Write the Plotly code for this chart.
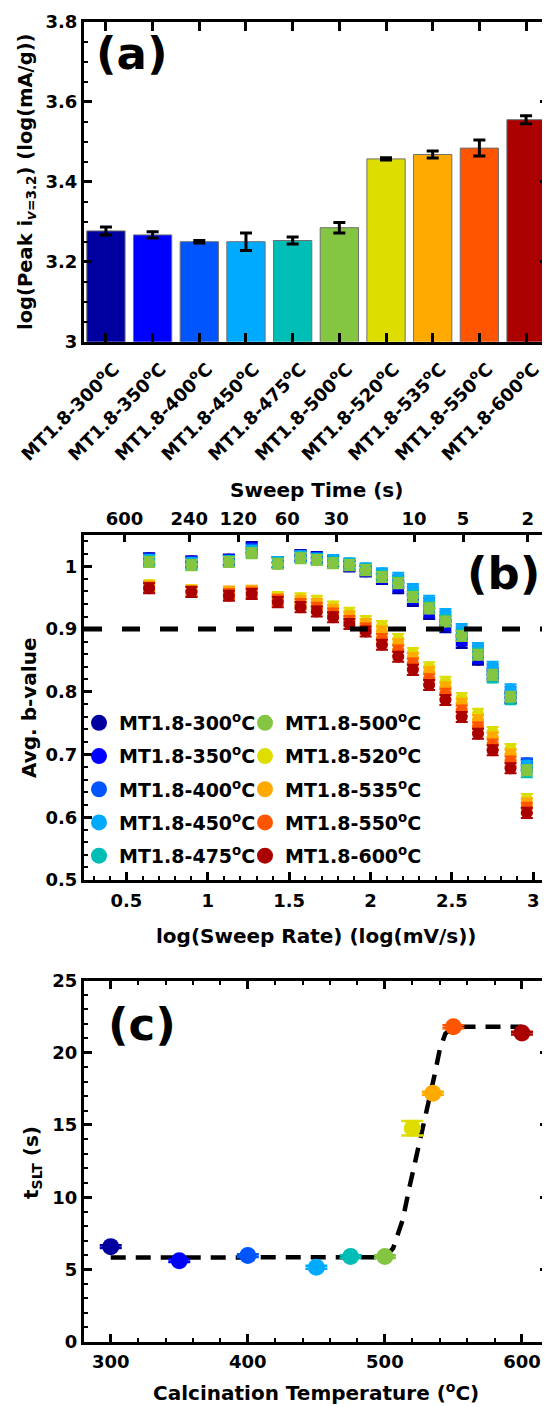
import numpy as np
import plotly.graph_objects as go

# ---------------- data ----------------
temps = [300, 350, 400, 450, 475, 500, 520, 535, 550, 600]
sample_names = ["MT1.8-%d<sup>o</sup>C" % t for t in temps]
colors = ["#0000A0", "#0000FF", "#0055FF", "#00AAFF", "#00BDB6",
          "#84C541", "#DDDD00", "#FFAA00", "#FF5500", "#AA0000"]

# (a) log(peak current) at v = 3.2
peak_log_current = [3.277, 3.267, 3.250, 3.250, 3.253, 3.285, 3.457, 3.468, 3.484, 3.555]
peak_log_err = [0.010, 0.008, 0.003, 0.022, 0.009, 0.013, 0.003, 0.009, 0.020, 0.010]

# (b) average b-value vs log(sweep rate)
log_sweep_rate = [0.64, 0.90, 1.13, 1.27, 1.43, 1.57, 1.67, 1.77, 1.87, 1.97,
                  2.07, 2.17, 2.26, 2.36, 2.46, 2.56, 2.66, 2.75, 2.86, 2.96]
b_300 = [1.013, 1.008, 1.011, 1.031, 1.006, 1.018, 1.015, 1.008, 1.000, 0.992,
         0.980, 0.965, 0.945, 0.924, 0.903, 0.878, 0.851, 0.826, 0.790, 0.683]
b_350 = [1.012, 1.007, 1.010, 1.029, 1.007, 1.017, 1.014, 1.009, 1.001, 0.993,
         0.981, 0.968, 0.948, 0.927, 0.906, 0.882, 0.854, 0.829, 0.792, 0.684]
b_400 = [1.011, 1.006, 1.009, 1.027, 1.007, 1.016, 1.013, 1.009, 1.003, 0.995,
         0.986, 0.978, 0.960, 0.941, 0.920, 0.896, 0.866, 0.836, 0.800, 0.686]
b_450 = [1.010, 1.005, 1.008, 1.025, 1.007, 1.016, 1.012, 1.010, 1.005, 0.997,
         0.989, 0.982, 0.964, 0.945, 0.924, 0.900, 0.870, 0.840, 0.804, 0.682]
b_475 = [1.008, 1.003, 1.008, 1.022, 1.005, 1.014, 1.011, 1.006, 1.003, 0.995,
         0.985, 0.975, 0.953, 0.935, 0.914, 0.891, 0.861, 0.823, 0.788, 0.672]
b_500 = [1.007, 1.002, 1.007, 1.021, 1.004, 1.013, 1.010, 1.005, 1.002, 0.994,
         0.983, 0.973, 0.951, 0.933, 0.912, 0.889, 0.859, 0.827, 0.792, 0.675]
b_520 = [0.970, 0.962, 0.958, 0.959, 0.951, 0.949, 0.945, 0.936, 0.926, 0.913,
         0.905, 0.884, 0.862, 0.839, 0.816, 0.790, 0.765, 0.736, 0.709, 0.629]
b_535 = [0.968, 0.961, 0.960, 0.961, 0.948, 0.945, 0.940, 0.931, 0.920, 0.908,
         0.896, 0.876, 0.854, 0.831, 0.807, 0.781, 0.755, 0.727, 0.700, 0.622]
b_550 = [0.966, 0.960, 0.956, 0.958, 0.946, 0.940, 0.934, 0.925, 0.913, 0.901,
         0.884, 0.866, 0.845, 0.820, 0.797, 0.770, 0.743, 0.716, 0.689, 0.615]
b_600 = [0.965, 0.959, 0.953, 0.956, 0.943, 0.935, 0.928, 0.919, 0.908, 0.896,
         0.875, 0.856, 0.835, 0.811, 0.787, 0.760, 0.733, 0.707, 0.678, 0.607]
b_series = [b_300, b_350, b_400, b_450, b_475, b_500, b_520, b_535, b_550, b_600]
b_err = [0.008, 0.008, 0.008, 0.008, 0.008, 0.008, 0.008, 0.008, 0.008, 0.008]
b_threshold = 0.9
sweep_time_ticks = [600, 240, 120, 60, 30, 10, 5, 2]
voltage_window_mV = 1850.0

# (c) t_SLT vs calcination temperature
t_slt = [6.58, 5.61, 5.96, 5.15, 5.89, 5.89, 14.78, 17.2, 21.8, 21.36]
t_slt_err = [0.1, 0.1, 0.1, 0.1, 0.1, 0.1, 0.5, 0.1, 0.1, 0.1]
fit_temp = [300, 500, 506, 513, 518, 523, 527, 532, 536, 540, 544, 549, 555, 600]
fit_tslt = [5.82, 5.85, 6.47, 8.43, 10.73, 12.81, 14.43, 16.51, 18.35, 20.2, 21.3, 21.75, 21.8, 21.8]

# ---------------- layout helpers ----------------
# the page body adds an 8 px margin, so the figure is drawn 8 px in and down
OFF = 8
W, H = 550 - OFF, 1407 - OFF
def fx(p):
    return (p - OFF) / W
def fy(p):
    return 1 - (p - OFF) / H

FONT = "DejaVu Sans"
tickfont = dict(family=FONT, size=18, color="black", weight="bold")
XL, XR = fx(84), fx(548)

fig = go.Figure()

# (a) bars
fig.add_trace(go.Bar(
    x=sample_names, y=peak_log_current,
    marker=dict(color=colors, line=dict(color="#707070", width=1)),
    error_y=dict(type="data", array=peak_log_err, color="black", thickness=3, width=6),
    xaxis="x", yaxis="y", showlegend=False))

# (b) scatter with error bars
for name, col, vals, err in zip(sample_names, colors, b_series, b_err):
    fig.add_trace(go.Scatter(
        x=log_sweep_rate, y=vals, mode="markers",
        marker=dict(size=12, color=col),
        error_y=dict(type="constant", value=err, color=col, thickness=2, width=6),
        xaxis="x2", yaxis="y2", showlegend=False))
# legend entries
for i, (name, col) in enumerate(zip(sample_names, colors)):
    fig.add_trace(go.Scatter(
        x=[None], y=[None], mode="markers", name=name,
        marker=dict(size=16, color=col),
        legend="legend" if i < 5 else "legend2", legendgroup="g%d" % i,
        xaxis="x2", yaxis="y2", showlegend=True))
# anchor for the top (sweep time) axis
fig.add_trace(go.Scatter(x=[None], y=[None], mode="markers", xaxis="x3", yaxis="y2",
                         showlegend=False, hoverinfo="skip"))

# (c) fit line + points
fig.add_trace(go.Scatter(
    x=fit_temp, y=fit_tslt, mode="lines",
    line=dict(color="black", width=4.5, dash="15px,10px"),
    xaxis="x4", yaxis="y4", showlegend=False))
for t, v, e, col in zip(temps, t_slt, t_slt_err, colors):
    fig.add_trace(go.Scatter(
        x=[t], y=[v], mode="markers",
        marker=dict(size=17, color=col),
        error_y=dict(type="data", array=[e], color=col, thickness=2.5, width=11),
        xaxis="x4", yaxis="y4", showlegend=False))

axis_common = dict(showline=True, linecolor="black", linewidth=3, ticks="inside",
                   tickcolor="black", tickwidth=2.5, ticklen=8, showgrid=False,
                   zeroline=False, tickfont=tickfont, automargin=False)

def minor(d):
    return dict(ticks="inside", ticklen=4, tickwidth=2, tickcolor="black", dtick=d, showgrid=False)

sweep_tick_pos = [np.log10(voltage_window_mV / t) for t in sweep_time_ticks]

fig.update_layout(
    template="none",
    width=W, height=H, margin=dict(l=0, r=0, t=0, b=0, pad=0, autoexpand=False),
    paper_bgcolor="white", plot_bgcolor="white", bargap=0.18,
    font=dict(family=FONT, color="black"),
    xaxis=dict(axis_common, domain=[XL, XR], anchor="y", range=[-0.47, 9.47],
               mirror="ticks", ticklen=9, tickwidth=3, tickangle=-45, ticklabelshift=8,
               ticklabelstandoff=7),
    yaxis=dict(axis_common, domain=[fy(341.7), fy(21.7)], anchor="x", range=[3, 3.8],
               dtick=0.2, mirror="ticks", minor=minor(0.05)),
    xaxis2=dict(axis_common, domain=[XL, XR], anchor="y2", range=[0.24, 3.09],
                dtick=0.5, mirror=True, minor=minor(0.1), ticklabelstandoff=2),
    yaxis2=dict(axis_common, domain=[fy(880), fy(535)], anchor="x2", range=[0.5, 1.05],
                dtick=0.1, mirror=True, minor=minor(0.02)),
    xaxis3=dict(axis_common, showline=False, domain=[XL, XR], anchor="y2", overlaying="x2",
                side="top", range=[0.24, 3.09], tickmode="array", tickvals=sweep_tick_pos,
                ticktext=[str(t) for t in sweep_time_ticks], ticklen=7, ticklabelstandoff=5),
    xaxis4=dict(axis_common, domain=[XL, XR], anchor="y4", range=[280.5, 619],
                dtick=100, mirror="ticks", minor=minor(20), ticklabelstandoff=2),
    yaxis4=dict(axis_common, domain=[fy(1341.7), fy(980.5)], anchor="x4", range=[0, 25],
                dtick=5, mirror="ticks", minor=minor(1)),
    legend=dict(x=fx(79), y=fy(704), xanchor="left", yanchor="top",
                bgcolor="rgba(0,0,0,0)", traceorder="grouped", tracegroupgap=5.5,
                font=dict(family=FONT, size=19, color="black", weight="bold")),
    legend2=dict(x=fx(245), y=fy(704), xanchor="left", yanchor="top",
                 bgcolor="rgba(0,0,0,0)", traceorder="grouped", tracegroupgap=5.5,
                 font=dict(family=FONT, size=19, color="black", weight="bold")),
)

fig.add_shape(type="line", xref="x2 domain", x0=0, x1=1, yref="y2", y0=b_threshold, y1=b_threshold,
              line=dict(color="black", width=5, dash="18px,20px"))

def ann(text, x, y, size, angle=0):
    fig.add_annotation(text=text, x=fx(x), y=fy(y), xref="paper", yref="paper",
                       showarrow=False, textangle=angle, xanchor="center", yanchor="middle",
                       font=dict(family=FONT, size=size, color="black", weight="bold"))

ann("(a)", 132, 54, 45)
ann("(b)", 503, 573, 45)
ann("(c)", 142, 1024, 45)
ann("log(Peak i<sub><i>v</i>=3.2</sub>) (log(mA/g))", 27, 182, 19.5, -90)
ann("Sweep Time (s)", 316, 490, 20)
ann("Avg. b-value", 29, 708, 20, -90)
ann("log(Sweep Rate) (log(mV/s))", 316, 936, 20)
ann("t<sub>SLT</sub> (s)", 32, 1163, 20, -90)
ann("Calcination Temperature (<sup>o</sup>C)", 316, 1392, 20)

fig.write_html("out.html")
